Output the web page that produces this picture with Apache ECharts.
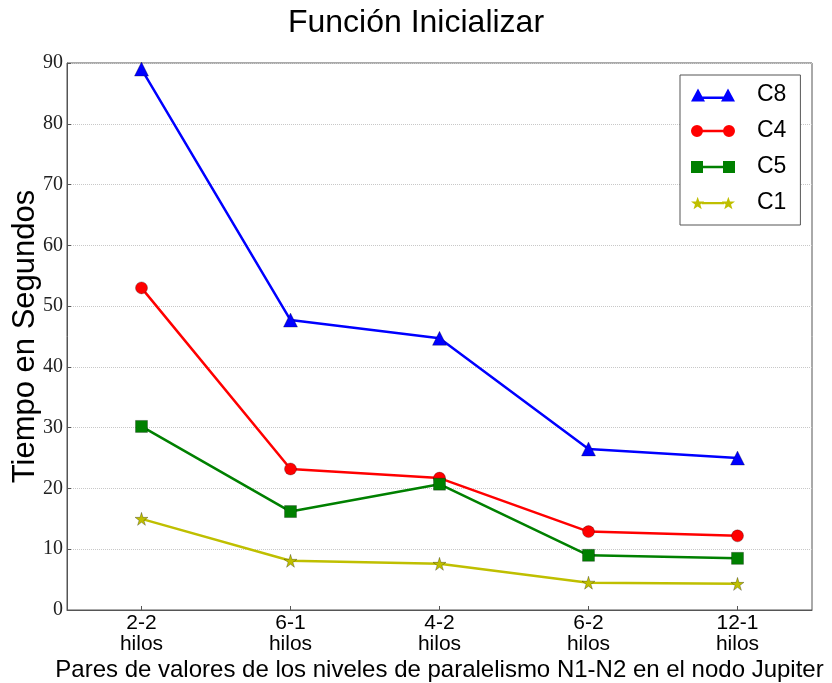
<!DOCTYPE html>
<html>
<head>
<meta charset="utf-8">
<script src="https://cdn.jsdelivr.net/npm/echarts@6/dist/echarts.min.js"></script>
<style>
  html, body { margin: 0; padding: 0; background: #fff; }
  #chart { width: 832px; height: 683px; }
</style>
</head>
<body>
<div id="chart"></div>
<script>
// Thread-pair configurations (N1-N2) on the Jupiter node
var categories = ['2-2\nhilos', '6-1\nhilos', '4-2\nhilos', '6-2\nhilos', '12-1\nhilos'];

// Execution time (seconds) per configuration
var c8 = [89.0, 47.7, 44.7, 26.5, 25.0];
var c4 = [53.0, 23.2, 21.7, 12.9, 12.2];
var c5 = [30.2, 16.2, 20.7, 9.0, 8.5];
var c1 = [15.0, 8.1, 7.6, 4.5, 4.3];

var yTicks = [0, 10, 20, 30, 40, 50, 60, 70, 80, 90];

var starPath = 'path://M50,0 L61,35 L98,35 L68,57 L79,91 L50,70 L21,91 L32,57 L2,35 L39,35 Z';

// Legend icons: a short line segment with the marker drawn at both ends
// (segments stop at the marker edges so the fill has no holes)
var legendIcons = {
  C8: 'path://M0,13 L7,0 L14,13 Z M30,13 L37,0 L44,13 Z M11,8 L33,8 L33,10.5 L11,10.5 Z',
  C4: 'path://M0,7 A6,6 0 1,1 12,7 A6,6 0 1,1 0,7 Z M32,7 A6,6 0 1,1 44,7 A6,6 0 1,1 32,7 Z M11.8,5.8 L32.2,5.8 L32.2,8.2 L11.8,8.2 Z',
  C5: 'path://M0,1 L12,1 L12,13 L0,13 Z M32,1 L44,1 L44,13 L32,13 Z M12,5.8 L32,5.8 L32,8.2 L12,8.2 Z',
  C1: 'path://M7,1 L8.6,5.6 L13.5,5.6 L9.6,8.5 L11,13 L7,10.3 L3,13 L4.4,8.5 L0.5,5.6 L5.4,5.6 Z ' +
      'M37,1 L38.6,5.6 L43.5,5.6 L39.6,8.5 L41,13 L37,10.3 L33,13 L34.4,8.5 L30.5,5.6 L35.4,5.6 Z ' +
      'M11,6.1 L33,6.1 L33,8.3 L11,8.3 Z'
};

function lineSeries(name, data, color, symbol, size) {
  return {
    name: name,
    type: 'line',
    data: data,
    symbol: symbol,
    symbolSize: size,
    showAllSymbol: true,
    lineStyle: { color: color, width: 2.5 },
    itemStyle: { color: color, borderColor: 'rgba(0,0,0,0.45)', borderWidth: 0.6 },
    emphasis: { disabled: true },
    z: 3
  };
}

var chart = echarts.init(document.getElementById('chart'), null, { renderer: 'canvas' });

chart.setOption({
  animation: false,
  backgroundColor: '#ffffff',
  title: {
    text: 'Función Inicializar',
    left: 'center',
    top: 2,
    textStyle: { fontFamily: 'Liberation Sans', fontSize: 32, fontWeight: 'normal', color: '#000' }
  },
  grid: {
    left: 67, right: 20, top: 63, bottom: 73,
    containLabel: false,
    outerBoundsMode: 'none',
    show: true, borderColor: '#555', borderWidth: 1, backgroundColor: 'transparent'
  },
  legend: {
    orient: 'vertical',
    left: 680,
    top: 75,
    padding: [8, 14, 10, 11],
    itemGap: 12,
    itemWidth: 44,
    itemHeight: 14,
    borderColor: '#555',
    borderWidth: 1,
    backgroundColor: '#fff',
    itemStyle: { borderWidth: 0 },
    textStyle: { fontFamily: 'Liberation Sans', fontSize: 23, color: '#000', lineHeight: 24, padding: [0, 0, 0, 17] },
    data: ['C8', 'C4', 'C5', 'C1'].map(function (n) { return { name: n, icon: legendIcons[n] }; })
  },
  xAxis: {
    type: 'category',
    data: categories,
    boundaryGap: true,
    name: 'Pares de valores de los niveles de paralelismo N1-N2 en el nodo Jupiter',
    nameLocation: 'middle',
    nameGap: 48,
    nameMoveOverlap: false,
    nameTextStyle: { fontFamily: 'Liberation Sans', fontSize: 24, color: '#000' },
    axisLine: { lineStyle: { color: '#555', width: 1 } },
    axisTick: { show: true, alignWithLabel: true, inside: true, length: 4, lineStyle: { color: '#555' } },
    axisLabel: { fontFamily: 'Liberation Sans', fontSize: 21, color: '#000', lineHeight: 21, margin: 3 },
    splitLine: { show: false }
  },
  yAxis: {
    type: 'value',
    min: 0,
    max: 90,
    interval: 10,
    name: 'Tiempo en Segundos',
    nameLocation: 'middle',
    nameGap: 26,
    nameMoveOverlap: false,
    nameTextStyle: { fontFamily: 'Liberation Sans', fontSize: 31, color: '#000' },
    axisLine: { show: true, lineStyle: { color: '#555', width: 1 } },
    axisTick: { show: true, inside: true, length: 4, lineStyle: { color: '#555' } },
    axisLabel: {
      fontFamily: 'Liberation Serif', fontSize: 20, color: '#222', margin: 4,
      formatter: function (v) { return yTicks.indexOf(v) >= 0 ? String(v) : ''; }
    },
    splitLine: { show: true, lineStyle: { color: '#c8c8c8', type: 'dotted', width: 1 } }
  },
  series: [
    lineSeries('C8', c8, '#0000ff', 'triangle', 14),
    lineSeries('C4', c4, '#ff0000', 'circle', 12),
    lineSeries('C5', c5, '#008000', 'rect', 12),
    lineSeries('C1', c1, '#bfbf00', starPath, 13)
  ]
});
</script>
</body>
</html>
